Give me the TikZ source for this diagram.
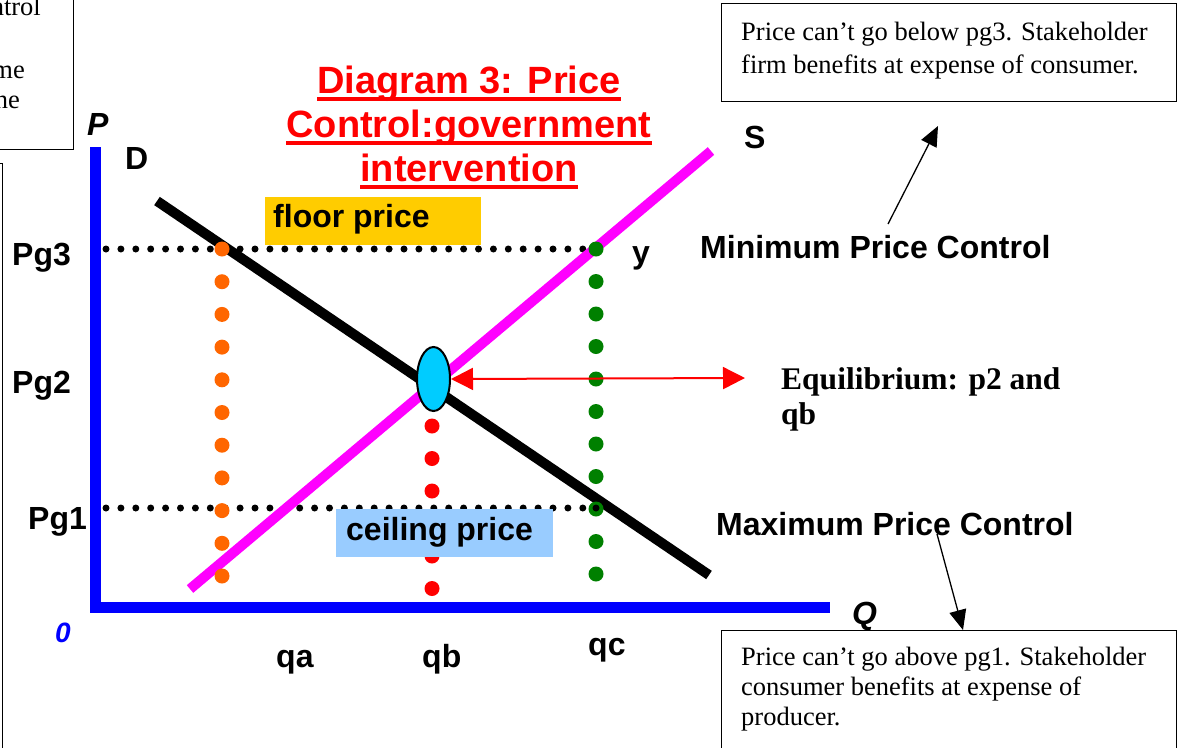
\documentclass[tikz,border=0pt]{standalone}
\usepackage{fontspec}
\setmainfont{Liberation Sans}
\newfontfamily\serifface{Liberation Serif}
\usetikzlibrary{arrows.meta,shapes.geometric}
\definecolor{axisblue}{HTML}{0000FF}
\definecolor{floorgold}{HTML}{FFCC00}
\definecolor{ceilblue}{HTML}{99CCFF}
\definecolor{supplymag}{HTML}{FF00FF}
\definecolor{eqcyan}{HTML}{00CCFF}
\definecolor{dotorange}{HTML}{FF6600}
\definecolor{dotgreen}{HTML}{008000}
\definecolor{titlered}{HTML}{FF0000}

\begin{document}
\begin{tikzpicture}[x=1pt,y=-1pt,
  lbl/.style={inner sep=0pt, anchor=base west, font=\fontsize{32}{38}\selectfont\bfseries},
  axlbl/.style={inner sep=0pt, anchor=base west, font=\fontsize{32}{38}\selectfont\bfseries\itshape},
  titleline/.style={inner sep=0pt, anchor=base, text=titlered, font=\fontsize{38}{44}\selectfont\bfseries},
  note/.style={inner sep=0pt, anchor=base west, font=\fontsize{26.5}{31}\selectfont\serifface},
  eqtext/.style={inner sep=0pt, anchor=base west, font=\fontsize{31.5}{36}\selectfont\serifface\bfseries},
  framebox/.style={draw, line width=1.3pt, inner sep=0pt, anchor=north west},
  pricebox/.style={inner sep=0pt, anchor=north west, minimum width=216pt, minimum height=48pt},
  guide/.style={line width=7pt, line cap=round, dash pattern=on 0pt off 14.9pt},
  curve/.style={line width=10pt},
  callout/.style={line width=1.3pt, -{Triangle[length=20pt,width=17pt]}}
]
\useasboundingbox (0,0) rectangle (1182,747);

% text boxes cut by the page edge
\node[framebox, minimum width=113pt, minimum height=189pt] (leftnote) at (-40,-40) {};
\node[note, anchor=base east] (frag1) at (41,15) {ntrol};
\node[note, anchor=base east] (frag2) at (25,78) {me};
\node[note, anchor=base east] (frag3) at (20,108) {ne};
\node[framebox, minimum width=42pt, minimum height=640pt] (leftbox) at (-40,163) {};

% axes
\draw[axisblue, line width=11pt] (95.5,147) -- (95.5,612);
\draw[axisblue, line width=11pt] (90,607) -- (830,607);

% price guides
\draw[guide] (106,249) -- (590,249);
\draw[guide] (106,508) -- (590,508);

% supply and demand
\coordinate (s0) at (190,589);
\coordinate (s1) at (711,151);
\coordinate (d0) at (157,201);
\coordinate (d1) at (709,575);
\draw[supplymag, curve] (s0) -- (s1);
\draw[black, curve] (d0) -- (d1);

% quantity guides
\foreach \i in {0,...,10} {
  \fill[dotorange] (222,{249+32.7*\i}) circle (7.5pt);
  \fill[dotgreen] (596,{249+32.5*\i}) circle (7.5pt);
}
\foreach \i in {0,...,5} {
  \fill[titlered] (432,{426+32.5*\i}) circle (7.5pt);
}
\fill[black] (596,508) circle (3.5pt);

% equilibrium marker
\node[ellipse, draw, line width=2pt, fill=eqcyan, minimum width=33pt, minimum height=64pt, inner sep=0pt] (eq) at (433.5,379) {};

% floor and ceiling labels
\node[pricebox, fill=floorgold] (floorbox) at (265,197) {};
\node[lbl] (floor) at (273,227) {floor price};
\node[pricebox, fill=ceilblue, minimum width=217pt] (ceilbox) at (336,509) {};
\node[lbl] (ceil) at (346,540) {ceiling price};

% title
\node[titleline] (t1) at (469,93) {Diagram 3: Price};
\node[titleline] (t2) at (469,137) {Control:government};
\node[titleline] (t3) at (469,181) {intervention};
\foreach \t in {t1,t2,t3}
  \draw[titlered, line width=4pt] ([yshift=-5.5pt]\t.base west) -- ([yshift=-5.5pt]\t.base east);

% axis labels
\node[axlbl] (P) at (87,135) {P};
\node[axlbl] (Q) at (852,624) {Q};
\node[axlbl, text=axisblue, font=\fontsize{28}{34}\selectfont\bfseries\itshape] (zero) at (55,642) {0};
\node[lbl] (D) at (125,169) {D};
\node[lbl] (S) at (744,148) {S};
\node[lbl] (y) at (632,263) {y};
\node[lbl] (pg3) at (12,265) {Pg3};
\node[lbl] (pg2) at (12,393) {Pg2};
\node[lbl] (pg1) at (28,529) {Pg1};
\node[lbl] (qa) at (276,667) {qa};
\node[lbl] (qb) at (422,667) {qb};
\node[lbl] (qc) at (588,655) {qc};

% equilibrium note
\coordinate (eqtip) at (745,378);
\draw[titlered, line width=2pt, {Triangle[length=22pt,width=22pt]}-{Triangle[length=22pt,width=22pt]}] (eq.east) -- (eqtip);
\node[eqtext] (eq1) at (781,389) {Equilibrium: p2 and};
\node[eqtext] (eq2) at (781,424) {qb};

% minimum price control
\node[framebox, minimum width=455pt, minimum height=98pt] (minbox) at (721,3) {};
\node[note] (min1) at (741,40) {Price can’t go below pg3. Stakeholder};
\node[note] (min2) at (741,73) {firm benefits at expense of consumer.};
\node[lbl] (minlbl) at (700,258) {Minimum Price Control};
\coordinate (minfrom) at (888,224);
\coordinate (minto) at (938,126);
\draw[callout] (minfrom) -- (minto);

% maximum price control
\node[framebox, minimum width=455pt, minimum height=160pt] (maxbox) at (721,630) {};
\node[note] (max1) at (741,665) {Price can’t go above pg1. Stakeholder};
\node[note] (max2) at (741,695) {consumer benefits at expense of};
\node[note] (max3) at (741,725) {producer.};
\node[lbl] (maxlbl) at (716,535) {Maximum Price Control};
\coordinate (maxfrom) at (937,534);
\draw[callout] (maxfrom) -- (maxbox.north west -| 963,0);
\end{tikzpicture}
\end{document}
